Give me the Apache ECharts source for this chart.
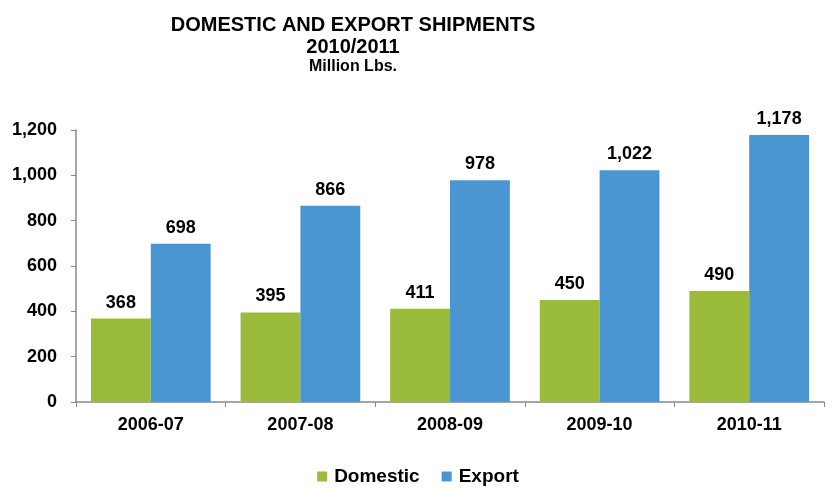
<!DOCTYPE html>
<html>
<head>
<meta charset="utf-8">
<script src="https://cdn.jsdelivr.net/npm/echarts@6/dist/echarts.min.js"></script>
<style>html,body{margin:0;padding:0;background:#fff}#c{width:836px;height:492px}</style>
</head>
<body>
<div id="c"></div>
<script>
var categories = ['2006-07', '2007-08', '2008-09', '2009-10', '2010-11'];
var domestic = [368, 395, 411, 450, 490];
var exportVals = [698, 866, 978, 1022, 1178];
var yTicks = [0, 200, 400, 600, 800, 1000, 1200];

var font = '"Liberation Sans", Arial, sans-serif';
function fmt(v) { return String(v).replace(/\B(?=(\d{3})+(?!\d))/g, ','); }

var chart = echarts.init(document.getElementById('c'));
chart.setOption({
  animation: false,
  textStyle: { fontFamily: font },
  title: [
    { text: 'DOMESTIC AND EXPORT SHIPMENTS', left: 348, top: 10, textAlign: 'center',
      textStyle: { fontFamily: font, fontSize: 20, fontWeight: 'bold', color: '#000' } },
    { text: '2010/2011', left: 348, top: 32, textAlign: 'center',
      textStyle: { fontFamily: font, fontSize: 20, fontWeight: 'bold', color: '#000' } },
    { text: 'Million Lbs.', left: 348, top: 54, textAlign: 'center',
      textStyle: { fontFamily: font, fontSize: 16, fontWeight: 'bold', color: '#000' } }
  ],
  legend: {
    top: 462, left: 'center', itemWidth: 10, itemHeight: 10, itemGap: 22,
    icon: 'rect',
    textStyle: { fontFamily: font, fontSize: 19, fontWeight: 'bold', color: '#000', padding: [0, 0, 0, 2] },
    data: ['Domestic', 'Export']
  },
  grid: { left: 76, right: 12, top: 130, bottom: 90, containLabel: false },
  xAxis: {
    type: 'category', data: categories,
    axisLine: { lineStyle: { color: '#888', width: 1.5 } },
    axisTick: { show: true, alignWithLabel: false, length: 5, lineStyle: { color: '#888' } },
    axisLabel: { fontFamily: font, fontSize: 18, fontWeight: 'bold', color: '#000', margin: 14 }
  },
  yAxis: {
    type: 'value', min: yTicks[0], max: yTicks[yTicks.length - 1], interval: 200,
    axisLine: { show: true, lineStyle: { color: '#888', width: 1.5 } },
    axisTick: { show: true, length: 5, lineStyle: { color: '#888' } },
    splitLine: { show: false },
    axisLabel: { fontFamily: font, fontSize: 18, fontWeight: 'bold', color: '#000', margin: 19, formatter: fmt }
  },
  series: [
    { name: 'Domestic', type: 'bar', data: domestic, barGap: '0%', barCategoryGap: '20%',
      itemStyle: { color: '#9BBB3B' },
      label: { show: true, position: 'top', distance: 7, fontFamily: font, fontSize: 18, fontWeight: 'bold', color: '#000', formatter: function (p) { return fmt(p.value); } } },
    { name: 'Export', type: 'bar', data: exportVals, barGap: '0%', barCategoryGap: '20%',
      itemStyle: { color: '#4A96D2' },
      label: { show: true, position: 'top', distance: 7, fontFamily: font, fontSize: 18, fontWeight: 'bold', color: '#000', formatter: function (p) { return fmt(p.value); } } }
  ]
});
</script>
</body>
</html>
